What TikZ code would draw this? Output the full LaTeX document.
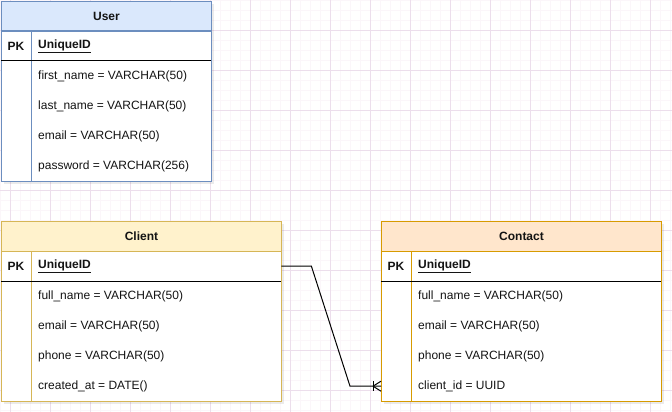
\documentclass[tikz,border=0pt]{standalone}
\usepackage{fontspec}
\setmainfont{Liberation Sans}
\definecolor{ublue}{HTML}{DAE8FC}
\definecolor{ubluestroke}{HTML}{6C8EBF}
\definecolor{cyel}{HTML}{FFF2CC}
\definecolor{cyelstroke}{HTML}{D6B656}
\definecolor{korange}{HTML}{FFE6CC}
\definecolor{korangestroke}{HTML}{D79B00}
\definecolor{gridminor}{RGB}{251,246,250}
\definecolor{gridmajor}{RGB}{236,222,236}
\definecolor{txt}{RGB}{20,20,20}
\begin{document}
\begin{tikzpicture}[x=1pt,y=-1pt,
  every node/.style={font=\fontsize{12}{14}\selectfont, text=txt},
  hdr/.style={draw, line width=1pt, minimum height=30pt, inner sep=0pt, anchor=north west, font=\fontsize{12}{14}\selectfont\bfseries},
  rowbox/.style={minimum height=30pt, inner sep=0pt, anchor=north west},
  cell/.style={anchor=west, inner sep=0pt},
  pk/.style={anchor=center, inner sep=0pt, font=\fontsize{12}{14}\selectfont\bfseries},
  boxshadow/.style={fill=black, opacity=0.08},
  conn/.style={draw=black, line width=1pt}
]
\useasboundingbox (0,0) rectangle (672,412);
\fill[white] (0,0) rectangle (672,412);
% grid
\foreach \x in {0,10,...,670} \draw[gridminor, line width=0.8pt] (\x,0) -- (\x,412);
\foreach \y in {0,10,...,410} \draw[gridminor, line width=0.8pt] (0,\y) -- (672,\y);
\foreach \x in {10,50,...,670} \draw[gridmajor, line width=0.8pt] (\x,0) -- (\x,412);
\foreach \y in {30,70,...,410} \draw[gridmajor, line width=0.8pt] (0,\y) -- (672,\y);

% ---------- User ----------
\fill[boxshadow] (4,4) rectangle (214,184);
\fill[white] (1,31) rectangle (211,181);
\node[hdr, fill=ublue, draw=ubluestroke, minimum width=210pt] (user) at (1,1) {User};
\draw[ubluestroke, line width=1pt] (1,31) rectangle (211,181);
\draw[ubluestroke, line width=1pt] (31,31) -- (31,181);
\draw[black, line width=1pt] (1,61) -- (211,61);
\node[rowbox, minimum width=210pt] (upk) at (1,31) {};
\node[pk] (upklbl) at (16,46) {PK};
\node[cell, font=\fontsize{12}{14}\selectfont\bfseries] (uid) at (38,46) {\underline{UniqueID}};
\node[cell] (u1) at (38,76) {first\_name = VARCHAR(50)};
\node[cell] (u2) at (38,106) {last\_name = VARCHAR(50)};
\node[cell] (u3) at (38,136) {email = VARCHAR(50)};
\node[cell] (u4) at (38,166) {password = VARCHAR(256)};

% ---------- Client ----------
\fill[boxshadow] (4,224) rectangle (284,404);
\fill[white] (1,251) rectangle (281,401);
\node[hdr, fill=cyel, draw=cyelstroke, minimum width=280pt] (client) at (1,221) {Client};
\draw[cyelstroke, line width=1pt] (1,251) rectangle (281,401);
\draw[cyelstroke, line width=1pt] (31,251) -- (31,401);
\draw[black, line width=1pt] (1,281) -- (281,281);
\node[rowbox, minimum width=280pt] (cpk) at (1,251) {};
\node[pk] (cpklbl) at (16,266) {PK};
\node[cell, font=\fontsize{12}{14}\selectfont\bfseries] (cid) at (38,266) {\underline{UniqueID}};
\node[cell] (c1) at (38,296) {full\_name = VARCHAR(50)};
\node[cell] (c2) at (38,326) {email = VARCHAR(50)};
\node[cell] (c3) at (38,356) {phone = VARCHAR(50)};
\node[cell] (c4) at (38,386) {created\_at = DATE()};

% ---------- Contact ----------
\fill[boxshadow] (384,224) rectangle (664,404);
\fill[white] (381,251) rectangle (661,401);
\node[hdr, fill=korange, draw=korangestroke, minimum width=280pt] (contact) at (381,221) {Contact};
\draw[korangestroke, line width=1pt] (381,251) rectangle (661,401);
\draw[korangestroke, line width=1pt] (411,251) -- (411,401);
\draw[black, line width=1pt] (381,281) -- (661,281);
\node[rowbox, minimum width=280pt] (kpk) at (381,251) {};
\node[pk] (kpklbl) at (396,266) {PK};
\node[cell, font=\fontsize{12}{14}\selectfont\bfseries] (kid) at (418,266) {\underline{UniqueID}};
\node[cell] (k1) at (418,296) {full\_name = VARCHAR(50)};
\node[cell] (k2) at (418,326) {email = VARCHAR(50)};
\node[cell] (k3) at (418,356) {phone = VARCHAR(50)};
\node[rowbox, minimum width=280pt] (krow4) at (381,371) {};
\node[cell] (k4) at (418,386) {client\_id = UUID};

% ---------- Connector ----------
\draw[conn] (cpk.east) -- ++(30,0) -- ([xshift=-31pt]krow4.west) -- (krow4.west);
\draw[conn] ([xshift=-8pt]krow4.west) ++(0,-5) -- ++(0,10);
\draw[conn] ([xshift=-8pt]krow4.west) -- ([yshift=5pt]krow4.west);
\draw[conn] ([xshift=-8pt]krow4.west) -- ([yshift=-5pt]krow4.west);
\end{tikzpicture}
\end{document}
